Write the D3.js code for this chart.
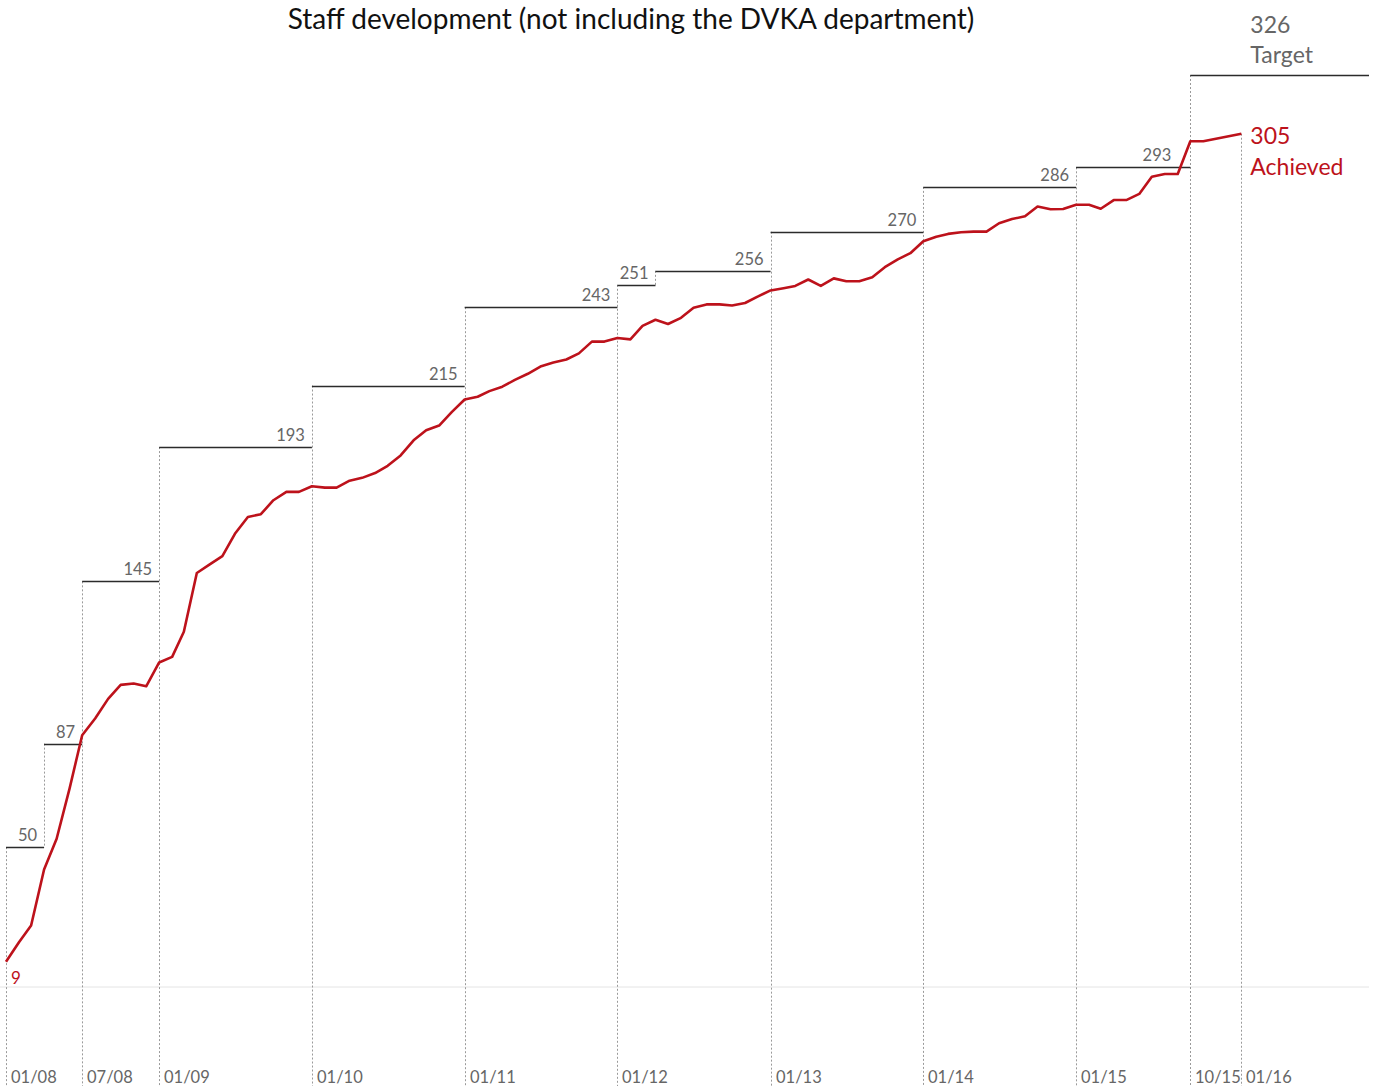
<!DOCTYPE html>
<html>
<head>
<meta charset="utf-8">
<script src="https://cdn.jsdelivr.net/npm/d3@7"></script>
<style>
  body { margin: 0; background: #fff; }
  svg { display: block; }
  text { font-family: Lato, "Open Sans", "Noto Sans", sans-serif; }
</style>
</head>
<body>
<svg id="chart" width="1381" height="1086"></svg>
<script>
// Monthly head count, January 2008 to November 2015, plus the closing reading of January 2016
const staffDates = [
  "2008-01-01","2008-02-01","2008-03-01","2008-04-01","2008-05-01","2008-06-01","2008-07-01","2008-08-01","2008-09-01","2008-10-01","2008-11-01","2008-12-01",
  "2009-01-01","2009-02-01","2009-03-01","2009-04-01","2009-05-01","2009-06-01","2009-07-01","2009-08-01","2009-09-01","2009-10-01","2009-11-01","2009-12-01",
  "2010-01-01","2010-02-01","2010-03-01","2010-04-01","2010-05-01","2010-06-01","2010-07-01","2010-08-01","2010-09-01","2010-10-01","2010-11-01","2010-12-01",
  "2011-01-01","2011-02-01","2011-03-01","2011-04-01","2011-05-01","2011-06-01","2011-07-01","2011-08-01","2011-09-01","2011-10-01","2011-11-01","2011-12-01",
  "2012-01-01","2012-02-01","2012-03-01","2012-04-01","2012-05-01","2012-06-01","2012-07-01","2012-08-01","2012-09-01","2012-10-01","2012-11-01","2012-12-01",
  "2013-01-01","2013-02-01","2013-03-01","2013-04-01","2013-05-01","2013-06-01","2013-07-01","2013-08-01","2013-09-01","2013-10-01","2013-11-01","2013-12-01",
  "2014-01-01","2014-02-01","2014-03-01","2014-04-01","2014-05-01","2014-06-01","2014-07-01","2014-08-01","2014-09-01","2014-10-01","2014-11-01","2014-12-01",
  "2015-01-01","2015-02-01","2015-03-01","2015-04-01","2015-05-01","2015-06-01","2015-07-01","2015-08-01","2015-09-01","2015-10-01","2015-11-01",
  "2016-01-31"
];
const staffValues = [
  9, 16, 22, 42, 53, 71, 90, 96, 103, 108, 108.5, 107.5,
  116, 118, 127, 148, 151, 154, 162, 168, 169, 174, 177, 177,
  179, 178.5, 178.5, 181, 182, 183.7, 186.3, 190, 195.4, 199, 200.7, 205.5,
  210, 211, 213, 214.6, 217, 219.2, 221.8, 223.2, 224.3, 226.5, 230.7, 230.7,
  232, 231.5, 236.3, 238.5, 237, 239.2, 242.8, 244, 244, 243.6, 244.5, 246.8,
  249, 249.8, 250.6, 252.9, 250.6, 253.3, 252.3, 252.3, 253.7, 257.3, 260.1, 262.3,
  266.6, 268.2, 269.2, 269.8, 270, 270, 273, 274.5, 275.5, 279, 278, 278.1,
  279.6, 279.6, 278.2, 281.3, 281.3, 283.5, 289.6, 290.6, 290.6, 302.3, 302.3,
  305
];

// Staffing targets, each valid from its start date to the next one
const targetStarts = ["2008-01-01","2008-04-01","2008-07-01","2009-01-01","2010-01-01","2011-01-01","2012-01-01","2012-04-01","2013-01-01","2014-01-01","2015-01-01","2015-10-01"];
const targetEnds   = ["2008-04-01","2008-07-01","2009-01-01","2010-01-01","2011-01-01","2012-01-01","2012-04-01","2013-01-01","2014-01-01","2015-01-01","2015-10-01","2016-12-01"];
const targetValues = [50, 87, 145, 193, 215, 243, 251, 256, 270, 286, 293, 326];

// Date markers along the bottom
const tickDates  = ["2008-01-01","2008-07-01","2009-01-01","2010-01-01","2011-01-01","2012-01-01","2013-01-01","2014-01-01","2015-01-01","2015-10-01","2016-01-31"];
const tickLabels = ["01/08","07/08","01/09","01/10","01/11","01/12","01/13","01/14","01/15","10/15","01/16"];

const titleText = "Staff development (not including the DVKA department)";

const parse = d3.utcParse("%Y-%m-%d");
const RED = "#bd121b";
const GREY = "#666";

const svg = d3.select("#chart");
const W = 1381, H = 1086;

const x = d3.scaleUtc()
  .domain([parse("2008-01-01"), parse("2016-12-01")])
  .range([6, 1369]);
const y = d3.scaleLinear()
  .domain([0, 326])
  .range([987, 75]);

const series = staffDates.map((d, i) => ({ date: parse(d), value: staffValues[i] }));
const targets = targetValues.map((v, i) => ({ start: parse(targetStarts[i]), end: parse(targetEnds[i]), value: v }));
const ticks = tickDates.map((d, i) => ({ date: parse(d), label: tickLabels[i] }));
const last = series[series.length - 1];
const finalTarget = targets[targets.length - 1];

// zero line
svg.append("line")
  .attr("x1", 0).attr("x2", x(parse("2016-12-01")))
  .attr("y1", y(0)).attr("y2", y(0))
  .attr("stroke", "#e4e4e4").attr("stroke-width", 1);

// dotted guides
const guides = svg.append("g")
  .attr("stroke", "#9a9a9a").attr("stroke-width", 1)
  .attr("stroke-dasharray", "2,2").attr("fill", "none");

const tickTimes = new Set(ticks.map(t => +t.date));
targets.forEach((t, i) => {
  const xx = Math.round(x(t.start)) + 0.5;
  const bottom = tickTimes.has(+t.start) ? H : y(targets[i - 1].value);
  guides.append("line")
    .attr("x1", xx).attr("x2", xx)
    .attr("y1", y(t.value)).attr("y2", bottom);
});
// closing reading marker
guides.append("line")
  .attr("x1", Math.round(x(last.date)) + 0.5).attr("x2", Math.round(x(last.date)) + 0.5)
  .attr("y1", y(last.value)).attr("y2", H);

// target steps
svg.append("g").selectAll("line").data(targets).join("line")
  .attr("x1", d => x(d.start)).attr("x2", d => x(d.end))
  .attr("y1", d => Math.round(y(d.value)) + 0.5).attr("y2", d => Math.round(y(d.value)) + 0.5)
  .attr("stroke", "#2b2b2b").attr("stroke-width", 1.3);

// target labels (all but the final target); the one before the last step
// keeps clear of the line's jump in October 2015
svg.append("g").selectAll("text").data(targets.slice(0, -1)).join("text")
  .attr("x", d => x(d.end) - (+d.end === +finalTarget.start ? 19 : 7))
  .attr("y", d => y(d.value) - 6)
  .attr("text-anchor", "end")
  .attr("font-size", 16.5)
  .attr("fill", GREY)
  .text(d => d.value);

// final target label
const tLab = svg.append("text")
  .attr("font-size", 23).attr("fill", GREY);
tLab.append("tspan").attr("x", x(last.date) + 9).attr("y", y(finalTarget.value) - 42).text(finalTarget.value);
tLab.append("tspan").attr("x", x(last.date) + 9).attr("y", y(finalTarget.value) - 12).text("Target");

// staff line
svg.append("path")
  .datum(series)
  .attr("fill", "none")
  .attr("stroke", RED)
  .attr("stroke-width", 2.6)
  .attr("stroke-linejoin", "round")
  .attr("d", d3.line().x(d => x(d.date)).y(d => y(d.value)));

// start value
svg.append("text")
  .attr("x", x(series[0].date) + 5)
  .attr("y", y(series[0].value) + 22)
  .attr("font-size", 17).attr("fill", RED)
  .text(series[0].value);

// achieved label
const aLab = svg.append("text").attr("font-size", 23).attr("fill", RED);
aLab.append("tspan").attr("x", x(last.date) + 9).attr("y", y(last.value) + 10).text(last.value);
aLab.append("tspan").attr("x", x(last.date) + 9).attr("y", y(last.value) + 41).text("Achieved");

// date labels
svg.append("g").selectAll("text").data(ticks).join("text")
  .attr("x", d => Math.round(x(d.date)) + 5)
  .attr("y", 1083)
  .attr("font-size", 16.5)
  .attr("fill", GREY)
  .text(d => d.label);

// title
svg.append("text")
  .attr("x", 631).attr("y", 29)
  .attr("text-anchor", "middle")
  .attr("font-size", 28)
  .attr("fill", "#111")
  .text(titleText);
</script>
</body>
</html>
